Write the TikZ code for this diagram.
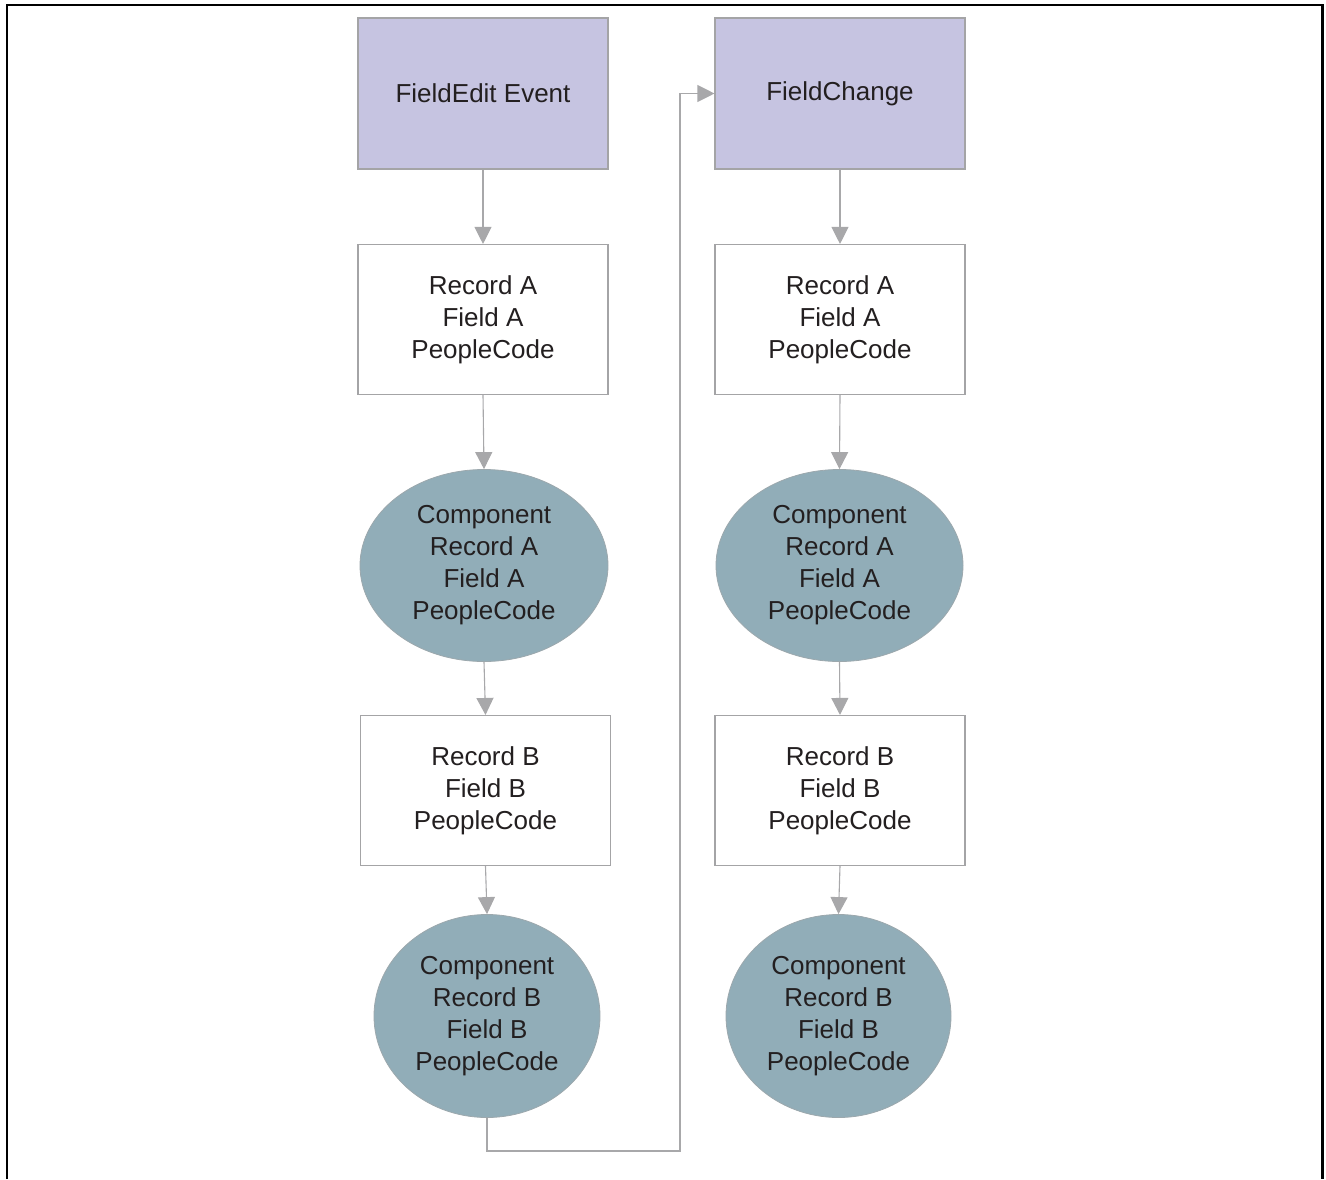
\documentclass[tikz,border=0pt]{standalone}
\usepackage{fontspec}
\setmainfont{Liberation Sans}
\usetikzlibrary{arrows.meta,shapes.geometric}
\definecolor{eventfill}{HTML}{C6C4E1}
\definecolor{boxline}{HTML}{A4A4A6}
\definecolor{compfill}{HTML}{91ADB8}
\definecolor{arrowgray}{HTML}{A8A8AA}
\definecolor{txt}{HTML}{231F20}
\tikzset{
  base/.style={draw=boxline, line width=1.1pt, text=txt, align=center,
    font=\fontsize{26}{32}\selectfont, inner sep=0pt},
  eventbox/.style={base, rectangle, fill=eventfill, minimum width=250pt, minimum height=151pt},
  codebox/.style={base, rectangle, fill=white, minimum width=250pt, minimum height=150pt},
  compell/.style={base, ellipse, fill=compfill, draw=boxline!60!compfill, line width=0.8pt},
  arr/.style={draw=arrowgray, line width=1.1pt, -{Triangle[length=17pt,width=17pt]}}
}
\begin{document}
\begin{tikzpicture}[x=1pt,y=-1pt]
\useasboundingbox (0,0) rectangle (1326,1179);
% open frame (no bottom edge)
\draw[line width=2.6pt] (7,1179) -- (7,5) -- (1322.5,5) -- (1322.5,1179);

% left column: FieldEdit
\node[eventbox] (fe) at (483,93.5) {FieldEdit Event};
\node[codebox] (ra1) at (483,319.5) {Record A\\Field A\\PeopleCode};
\node[compell, minimum width=248pt, minimum height=192pt] (ea1) at (484,565.5) {Component\\Record A\\Field A\\PeopleCode};
\node[codebox] (rb1) at (485.5,790.5) {Record B\\Field B\\PeopleCode};
\node[compell, minimum width=226pt, minimum height=203pt] (eb1) at (487,1016) {Component\\Record B\\Field B\\PeopleCode};

% right column: FieldChange
\node[eventbox] (fc) at (840,93.5) {FieldChange};
\node[codebox] (ra2) at (840,319.5) {Record A\\Field A\\PeopleCode};
\node[compell, minimum width=247pt, minimum height=192pt] (ea2) at (839.5,565.5) {Component\\Record A\\Field A\\PeopleCode};
\node[codebox] (rb2) at (840,790.5) {Record B\\Field B\\PeopleCode};
\node[compell, minimum width=225pt, minimum height=203pt] (eb2) at (838.5,1016) {Component\\Record B\\Field B\\PeopleCode};

% flow arrows
\draw[arr] (fe.south) -- (ra1.north);
\draw[arr] (ra1.south) -- (ea1.north);
\draw[arr] (ea1.south) -- (rb1.north);
\draw[arr] (rb1.south) -- (eb1.north);

\draw[arr] (fc.south) -- (ra2.north);
\draw[arr] (ra2.south) -- (ea2.north);
\draw[arr] (ea2.south) -- (rb2.north);
\draw[arr] (rb2.south) -- (eb2.north);

% loop from the end of FieldEdit into FieldChange
\coordinate (turn) at (680,1151);
\draw[arr] (eb1.south) |- (turn) |- (fc.west);
\end{tikzpicture}
\end{document}
